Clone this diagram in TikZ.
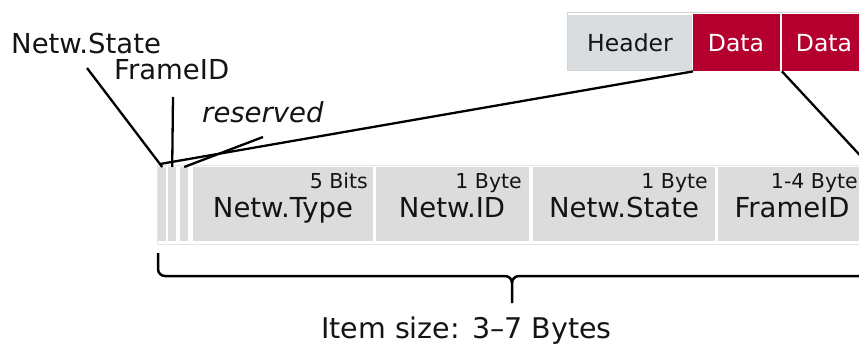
\documentclass[tikz,border=0pt]{standalone}
\usepackage{fontspec}
\setmainfont{DejaVu Sans}
\definecolor{cellgray}{HTML}{DCDCDC}
\definecolor{hdrgray}{HTML}{DADDE0}
\definecolor{datared}{HTML}{B5002F}
\definecolor{rimgray}{HTML}{D4D4D4}
\definecolor{rimlight}{HTML}{E6E6E6}
\definecolor{ink}{HTML}{141414}
\tikzset{
  cell/.style={fill=cellgray, draw=none, inner sep=0pt, anchor=north west},
  hdrcell/.style={fill=hdrgray, draw=none, inner sep=0pt, anchor=north west},
  datacell/.style={fill=datared, draw=none, inner sep=0pt, anchor=north west},
  bigtxt/.style={inner sep=0pt, text=ink, font=\fontsize{27.5}{30}\selectfont, anchor=base},
  toptxt/.style={inner sep=0pt, font=\fontsize{23.5}{26}\selectfont, anchor=base},
  smalltxt/.style={inner sep=0pt, text=ink, font=\fontsize{20.5}{22}\selectfont, anchor=base east},
  lbltxt/.style={inner sep=0pt, text=ink, font=\fontsize{27.5}{30}\selectfont, anchor=base west},
  conn/.style={draw=black, line width=2.3pt},
  bracestyle/.style={draw=black, line width=2.5pt}
}
\begin{document}
\begin{tikzpicture}[x=1pt,y=-1pt]
\useasboundingbox (0,0) rectangle (859,345);
\clip (0,0) rectangle (859,345);
% top row
\draw[rimgray, line width=1pt] (567,13) rectangle (880,71);
\node[hdrcell, minimum width=124, minimum height=55] (hdr) at (568,15) {};
\node[datacell, minimum width=87, minimum height=57] (d1) at (693,14) {};
\node[datacell, minimum width=90, minimum height=57] (d2) at (782,14) {};
\node[toptxt, text=ink] (hdrT) at (630,52) {Header};
\node[toptxt, text=white] (d1T) at (736,52) {Data};
\node[toptxt, text=white] (d2T) at (824,52) {Data};
% field row
\draw[rimlight, line width=1pt] (157,165) rectangle (880,244);
\node[cell, minimum width=8, minimum height=74] (b1) at (158,167) {};
\node[cell, minimum width=8, minimum height=74] (b2) at (168,167) {};
\node[cell, minimum width=8, minimum height=74] (b3) at (180,167) {};
\node[cell, minimum width=180, minimum height=74] (nt) at (193,167) {};
\node[cell, minimum width=153, minimum height=74] (ni) at (376,167) {};
\node[cell, minimum width=182, minimum height=74] (ns) at (533,167) {};
\node[cell, minimum width=150, minimum height=74] (nf) at (718,167) {};
\node[smalltxt] (ntS) at (368,188) {5 Bits};
\node[smalltxt] (niS) at (522,188) {1 Byte};
\node[smalltxt] (nsS) at (708,188) {1 Byte};
\node[smalltxt] (nfS) at (858,188) {1-4 Byte};
\node[bigtxt] (ntT) at (283,217) {Netw.Type};
\node[bigtxt] (niT) at (452,217) {Netw.ID};
\node[bigtxt] (nsT) at (624,217) {Netw.State};
\node[bigtxt] (nfT) at (792,217) {FrameID};
% labels
\node[lbltxt] (lState) at (11,53) {Netw.State};
\node[lbltxt] (lFrame) at (114,80) {FrameID};
\node[lbltxt, font=\fontsize{27.5}{30}\selectfont\itshape] (lRes) at (202,122) {reserved};
\coordinate (cState) at (87,68);
\coordinate (cFrame) at (173,97);
\coordinate (cRes) at (263,137);
\coordinate (cOut) at (869,165);
% connectors
\draw[conn] (cState) -- (b1.north);
\draw[conn] (cFrame) -- (b2.north);
\draw[conn] (cRes) -- (b3.north);
\draw[conn] (b1.north west) ++(2,-3) -- (d1.south west);
\draw[conn] (d2.south west) -- (cOut);
% brace
\coordinate (brL) at (158,253);
\coordinate (brTip) at (512,303);
\coordinate (brR) at (880,276);
\draw[bracestyle] (brL) -- (158,269) to[out=-90,in=180] (165,276) -- (505,276)
  to[out=0,in=90] (512,283) -- (brTip);
\draw[bracestyle] (512,283) to[out=90,in=180] (519,276) -- (brR);
\node[lbltxt, font=\fontsize{28.5}{31}\selectfont] (size) at (321,338) {Item size: 3–7 Bytes};
\end{tikzpicture}
\end{document}
